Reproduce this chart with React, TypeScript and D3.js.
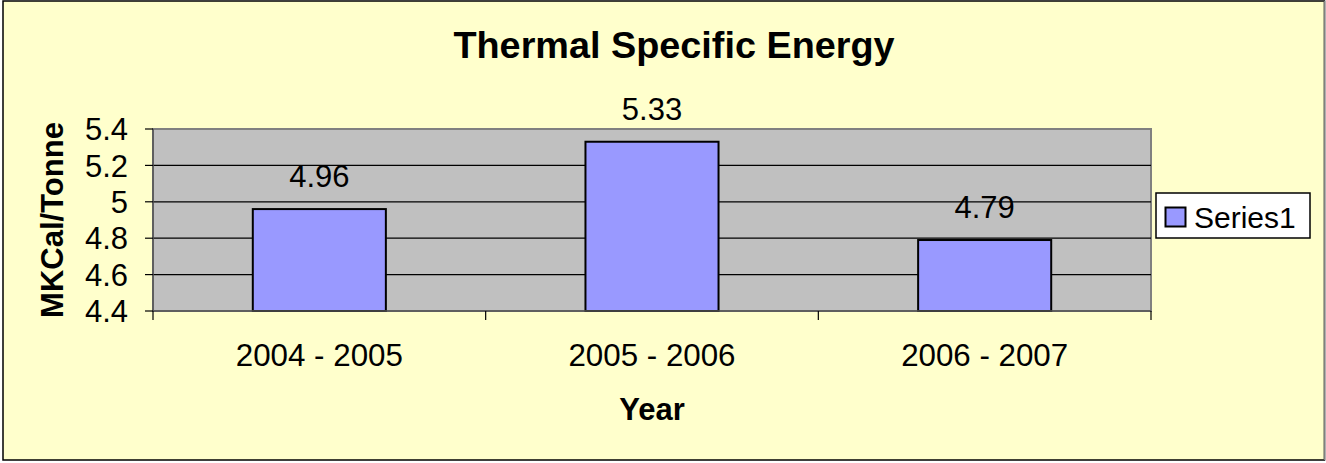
import React from "react";
import * as d3 from "d3";

const categories = ["2004 - 2005", "2005 - 2006", "2006 - 2007"];
const values = [4.96, 5.33, 4.79];
const yTicks = [4.4, 4.6, 4.8, 5.0, 5.2, 5.4];
const seriesName = "Series1";
const title = "Thermal Specific Energy";
const xTitle = "Year";
const yTitle = "MKCal/Tonne";

const W = 1326;
const H = 463;
const plot = { left: 153, right: 1151, top: 129, bottom: 311 };
const font = "Arial, 'Liberation Sans', Helvetica, sans-serif";

export default function App() {
  const x = d3
    .scaleBand<string>()
    .domain(categories)
    .range([plot.left, plot.right])
    .padding(0);
  const y = d3.scaleLinear().domain([4.4, 5.4]).range([plot.bottom, plot.top]);
  const bw = x.bandwidth() * 0.4;
  const boundaries = [...categories.map((c) => x(c)!), plot.right];
  const fmt = (v: number) => d3.format("~g")(+v.toFixed(1));

  return (
    <svg
      width={W}
      height={H}
      style={{ position: "absolute", left: 0, top: 0, display: "block" }}
      fontFamily={font}
    >
      <rect x={0} y={0} width={W} height={H} fill="#ffffff" />
      <rect x={3} y={1} width={1321.5} height={459} fill="#FFFFCC" stroke="#000" strokeWidth={1.5} />
      <line x1={1324.5} y1={1} x2={1324.5} y2={460} stroke="#808080" strokeWidth={1.5} />

      <text x={674} y={58} textAnchor="middle" fontSize={37.8} fontWeight="bold" fill="#000">
        {title}
      </text>

      <rect
        x={plot.left}
        y={plot.top}
        width={plot.right - plot.left}
        height={plot.bottom - plot.top}
        fill="#C0C0C0"
        stroke="#808080"
        strokeWidth={2}
      />

      {yTicks.slice(1, -1).map((t) => (
        <line key={"g" + t} x1={plot.left} x2={plot.right} y1={y(t)} y2={y(t)} stroke="#000" strokeWidth={1.2} />
      ))}

      {values.map((v, i) => {
        const cx = x(categories[i])! + x.bandwidth() / 2;
        return (
          <g key={"b" + i}>
            <rect
              x={cx - bw / 2}
              y={y(v)}
              width={bw}
              height={y(4.4) - y(v)}
              fill="#9999FF"
              stroke="#000"
              strokeWidth={2}
            />
            <text x={cx} y={y(v) - 22} textAnchor="middle" fontSize={31} fill="#000">
              {v.toFixed(2)}
            </text>
          </g>
        );
      })}

      {/* axes */}
      <line x1={plot.left} x2={plot.left} y1={plot.top} y2={plot.bottom} stroke="#555" strokeWidth={1.5} />
      <line x1={plot.left} x2={plot.right} y1={plot.bottom} y2={plot.bottom} stroke="#555" strokeWidth={1.5} />
      {yTicks.map((t) => (
        <g key={"yt" + t}>
          <line x1={plot.left - 8} x2={plot.left} y1={y(t)} y2={y(t)} stroke="#000" strokeWidth={1.2} />
          <text x={128} y={y(t)} dy="0.36em" textAnchor="end" fontSize={31} fill="#000">
            {fmt(t)}
          </text>
        </g>
      ))}
      {boundaries.map((bx, i) => (
        <line key={"xt" + i} x1={bx} x2={bx} y1={plot.bottom} y2={plot.bottom + 9} stroke="#000" strokeWidth={1.2} />
      ))}
      {categories.map((c) => (
        <text key={"xl" + c} x={x(c)! + x.bandwidth() / 2} y={366} textAnchor="middle" fontSize={31.3} fill="#000">
          {c}
        </text>
      ))}

      <text x={(plot.left + plot.right) / 2} y={420} textAnchor="middle" fontSize={31} fontWeight="bold" fill="#000">
        {xTitle}
      </text>
      <text
        transform={`translate(63,${(plot.top + plot.bottom) / 2}) rotate(-90)`}
        textAnchor="middle"
        fontSize={31}
        fontWeight="bold"
        fill="#000"
      >
        {yTitle}
      </text>

      {/* legend */}
      <rect x={1156} y={193} width={154} height={45} fill="#fff" stroke="#000" strokeWidth={1.5} />
      <rect x={1165.5} y={207.5} width={20} height={19} fill="#9999FF" stroke="#000" strokeWidth={2} />
      <text x={1194} y={228} fontSize={30} fill="#000">
        {seriesName}
      </text>
    </svg>
  );
}
